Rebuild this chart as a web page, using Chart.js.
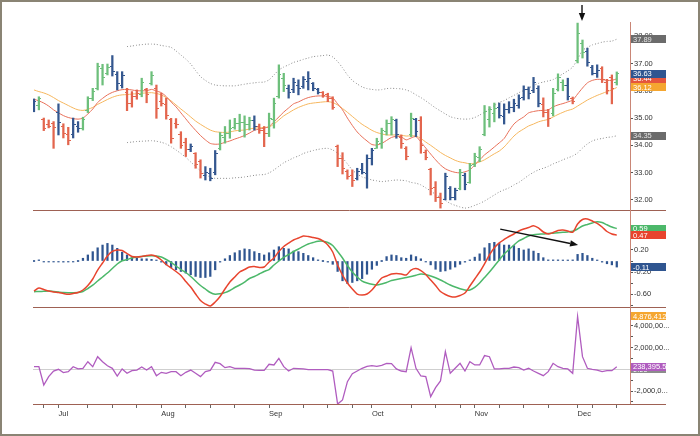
<!DOCTYPE html>
<html>
<head>
<meta charset="utf-8">
<script src="https://cdn.jsdelivr.net/npm/chart.js@4.4.1/dist/chart.umd.min.js"></script>
<style>
  html, body { margin: 0; padding: 0; background: #fff; }
  #frame { position: absolute; left: 0; top: 0; width: 700px; height: 436px; box-sizing: border-box; border: 2px solid #8a8474; }
  .layer { position: absolute; left: 0; top: 0; width: 700px; height: 436px; }
</style>
</head>
<body>
<div id="frame"></div>
<div class="layer"><canvas id="priceChart"></canvas></div>
<div class="layer"><canvas id="macdChart"></canvas></div>
<div class="layer"><canvas id="forceChart"></canvas></div>
<script>
/* ===============================
   Data (trading days, 24 Jun - 13 Dec)
================================ */
const monthNames = ["Jul", "Aug", "Sep", "Oct", "Nov", "Dec"];
const monthStart = [5, 26, 48, 69, 90, 111];
const weekStart = [2, 11, 16, 21, 31, 36, 41, 55, 60, 65, 77, 82, 87, 95, 100, 105, 114, 119];

const priceTicks = [32, 33, 34, 35, 36, 37, 38];
const macdTicks = [0.6, 0.4, 0.2, 0, -0.2, -0.4, -0.6, -0.8];
const forceTicks = [5e6, 4e6, 3e6, 2e6, 1e6, 0, -1e6, -2e6, -3e6];

// impulse colour of each bar: g = up, r = down, b = neutral
const impulse = ("bgrrrbrrbb" + "ggggggbbbr" + "rrgrgrrrrr" + "rrbrrbbbgg" + "gggggbrrgg" +
                 "ggbbbbbbbr" + "rrrrrrbbbb" + "ggggbrrgbr" + "rrrrbbbgbg" + "gggggbbbbb" +
                 "bbbbrrgggb" + "rggbbbrrrg").split("");

const high = [
  35.70, 35.78, 35.00, 34.93, 34.87, 35.52, 34.79, 34.66, 35.00, 34.87,
  35.03, 35.78, 36.09, 37.01, 36.97, 36.98, 37.29, 36.70, 36.70, 36.09,
  35.97, 36.03, 36.46, 36.09, 36.70, 36.21, 35.91, 35.73, 34.99, 34.98,
  34.50, 34.26, 34.05, 33.73, 33.47, 33.22, 33.16, 33.81, 34.47, 34.69,
  34.93, 34.99, 35.14, 35.08, 35.03, 35.08, 34.78, 34.69, 35.18, 35.73,
  36.95, 36.64, 36.21, 36.46, 36.40, 36.52, 36.70, 36.30, 36.09, 35.97,
  35.91, 35.78, 34.01, 33.73, 33.10, 33.10, 33.16, 33.34, 33.65, 33.89,
  34.26, 34.63, 34.93, 35.05, 34.96, 34.38, 33.95, 35.18, 34.99, 35.05,
  33.83, 33.16, 32.67, 32.25, 32.98, 32.49, 32.43, 33.12, 32.98, 33.34,
  33.71, 33.95, 35.46, 35.42, 35.55, 35.55, 35.52, 35.60, 35.69, 35.85,
  36.18, 36.14, 36.49, 36.18, 35.74, 35.32, 36.09, 36.62, 36.40, 36.46,
  35.77, 38.48, 37.86, 37.56, 36.93, 36.95, 36.88, 36.42, 36.58, 36.69
];
const low = [
  35.23, 35.30, 34.54, 34.64, 33.89, 34.38, 34.27, 34.02, 34.27, 34.48,
  34.56, 35.20, 35.64, 36.03, 36.21, 36.58, 36.54, 36.03, 36.10, 35.27,
  35.40, 35.69, 35.78, 35.56, 36.21, 34.99, 35.44, 34.96, 34.08, 34.63,
  33.89, 33.59, 33.77, 33.16, 32.80, 32.73, 32.70, 32.92, 33.83, 34.08,
  34.26, 34.59, 34.50, 34.30, 34.56, 34.56, 34.44, 33.95, 34.32, 34.63,
  35.73, 35.97, 35.73, 35.93, 35.85, 36.09, 36.03, 36.00, 35.88, 35.76,
  35.60, 35.32, 33.22, 32.95, 32.76, 32.49, 32.73, 32.95, 32.43, 33.28,
  33.89, 33.89, 34.38, 34.38, 34.26, 33.89, 33.47, 34.32, 34.32, 33.71,
  33.47, 32.18, 31.94, 31.70, 32.00, 32.00, 32.00, 32.37, 32.37, 32.61,
  33.22, 33.40, 34.35, 34.67, 34.86, 35.00, 34.78, 35.18, 35.23, 35.36,
  35.66, 35.70, 35.93, 35.41, 35.04, 34.69, 35.08, 35.99, 36.00, 35.66,
  35.52, 37.02, 37.20, 36.90, 36.58, 36.49, 36.30, 35.88, 35.52, 36.21
];
const open = [
  35.35, 35.45, 34.95, 34.75, 34.80, 35.20, 34.70, 34.40, 34.40, 34.70,
  34.62, 35.28, 35.70, 36.10, 36.80, 36.65, 36.90, 36.60, 36.20, 35.95,
  35.55, 35.80, 35.85, 36.05, 36.25, 36.10, 35.60, 35.50, 34.95, 34.80,
  34.40, 34.10, 33.85, 33.70, 33.40, 32.90, 32.95, 33.00, 33.90, 34.30,
  34.45, 34.65, 34.80, 34.85, 34.75, 34.90, 34.70, 34.55, 34.45, 34.95,
  35.80, 36.45, 36.10, 36.05, 36.20, 36.15, 36.35, 36.25, 36.05, 35.95,
  35.85, 35.70, 33.95, 33.50, 33.05, 32.90, 32.80, 33.10, 32.95, 33.50,
  33.90, 34.05, 34.50, 34.80, 34.90, 34.30, 33.90, 34.40, 34.95, 34.90,
  33.75, 33.10, 32.45, 32.10, 32.00, 32.40, 32.10, 32.40, 32.90, 32.65,
  33.30, 33.55, 34.40, 34.95, 35.15, 35.40, 35.05, 35.30, 35.40, 35.45,
  35.75, 36.05, 36.00, 36.10, 35.50, 35.20, 35.15, 36.05, 36.30, 36.20,
  35.70, 37.10, 37.75, 37.45, 36.85, 36.65, 36.80, 36.30, 36.50, 36.30
];
const close = [
  35.62, 35.72, 34.62, 34.70, 34.66, 34.85, 34.45, 34.18, 34.78, 34.60,
  34.95, 35.70, 35.98, 36.90, 36.50, 36.85, 36.70, 36.25, 36.55, 35.55,
  35.80, 35.90, 36.30, 35.85, 36.55, 35.35, 35.55, 35.10, 34.25, 34.75,
  34.00, 33.85, 33.95, 33.30, 32.95, 33.00, 32.80, 33.70, 34.35, 34.45,
  34.60, 34.80, 34.85, 34.75, 34.90, 34.70, 34.55, 34.45, 35.00, 35.55,
  36.60, 36.20, 35.95, 36.30, 36.10, 36.40, 36.45, 36.10, 35.95, 35.82,
  35.70, 35.40, 33.50, 33.15, 32.85, 32.70, 33.05, 33.00, 33.50, 33.80,
  34.15, 34.55, 34.80, 34.95, 34.40, 34.05, 33.60, 35.00, 34.50, 34.00,
  33.55, 32.40, 32.10, 31.85, 32.85, 32.10, 32.35, 33.00, 32.55, 33.25,
  33.60, 33.85, 35.25, 35.30, 35.35, 35.10, 35.30, 35.40, 35.55, 35.70,
  36.05, 35.90, 36.30, 35.55, 35.20, 35.00, 35.90, 36.50, 36.20, 35.80,
  35.60, 38.10, 37.40, 37.05, 36.65, 36.75, 36.40, 36.00, 36.10, 36.63
];

const fastEma = [
  35.69, 35.63, 35.55, 35.44, 35.30, 35.19, 35.09, 35.02, 34.98, 34.96,
  35.00, 35.15, 35.33, 35.57, 35.72, 35.85, 35.94, 36.00, 36.04, 36.05,
  36.03, 36.00, 36.00, 36.00, 36.05, 35.99, 35.93, 35.79, 35.59, 35.41,
  35.19, 34.97, 34.75, 34.55, 34.36, 34.20, 34.07, 34.04, 34.05, 34.11,
  34.16, 34.23, 34.29, 34.36, 34.45, 34.55, 34.60, 34.63, 34.69, 34.86,
  35.04, 35.22, 35.37, 35.52, 35.59, 35.68, 35.75, 35.79, 35.81, 35.81,
  35.79, 35.74, 35.52, 35.30, 35.00, 34.73, 34.49, 34.31, 34.16, 34.03,
  34.01, 34.07, 34.18, 34.29, 34.33, 34.31, 34.20, 34.27, 34.32, 34.12,
  33.90, 33.68, 33.47, 33.28, 33.14, 33.06, 33.01, 32.99, 33.03, 33.10,
  33.28, 33.47, 33.65, 33.79, 33.94, 34.09, 34.25, 34.53, 34.78, 34.93,
  35.04, 35.19, 35.24, 35.27, 35.28, 35.30, 35.41, 35.48, 35.53, 35.59,
  35.66, 35.88, 36.10, 36.29, 36.38, 36.42, 36.41, 36.38, 36.38, 36.44
];
const slowEma = [
  36.03, 35.97, 35.92, 35.85, 35.75, 35.64, 35.55, 35.46, 35.37, 35.30,
  35.28, 35.32, 35.39, 35.50, 35.59, 35.68, 35.76, 35.82, 35.85, 35.86,
  35.88, 35.89, 35.91, 35.92, 35.93, 35.90, 35.85, 35.75, 35.63, 35.48,
  35.33, 35.19, 35.04, 34.89, 34.77, 34.66, 34.56, 34.50, 34.48, 34.47,
  34.49, 34.53, 34.55, 34.56, 34.60, 34.63, 34.64, 34.66, 34.67, 34.78,
  34.93, 35.08, 35.19, 35.30, 35.39, 35.46, 35.52, 35.55, 35.57, 35.59,
  35.60, 35.57, 35.48, 35.35, 35.21, 35.06, 34.91, 34.77, 34.66, 34.55,
  34.47, 34.42, 34.38, 34.38, 34.38, 34.37, 34.34, 34.35, 34.34, 34.25,
  34.12, 34.00, 33.87, 33.74, 33.63, 33.54, 33.45, 33.39, 33.36, 33.32,
  33.34, 33.39, 33.47, 33.58, 33.69, 33.79, 33.94, 34.14, 34.34, 34.49,
  34.60, 34.71, 34.78, 34.86, 34.91, 34.95, 35.04, 35.13, 35.21, 35.28,
  35.33, 35.44, 35.55, 35.66, 35.75, 35.83, 35.90, 35.97, 36.03, 36.12
];

// envelope channel starts on bar 19
const envStart = 19;
const envUpper = [
  37.62, 37.64, 37.67, 37.69, 37.71, 37.71, 37.70, 37.66, 37.63, 37.59,
  37.46, 37.31, 37.16, 36.98, 36.74, 36.52, 36.38, 36.27, 36.21, 36.19,
  36.18, 36.18, 36.18, 36.21, 36.24, 36.27, 36.29, 36.31, 36.32, 36.40,
  36.58, 36.76, 36.87, 36.95, 37.04, 37.09, 37.15, 37.20, 37.25, 37.27,
  37.29, 37.31, 37.24, 37.07, 36.84, 36.58, 36.38, 36.25, 36.14, 36.08,
  36.05, 36.03, 36.04, 36.08, 36.09, 36.08, 36.07, 36.03, 35.96, 35.85,
  35.75, 35.63, 35.50, 35.37, 35.26, 35.15, 35.05, 35.00, 34.97, 34.96,
  34.97, 35.02, 35.11, 35.21, 35.33, 35.46, 35.57, 35.64, 35.74, 35.83,
  35.93, 36.01, 36.10, 36.19, 36.27, 36.32, 36.36, 36.41, 36.51, 36.62,
  36.73, 36.87, 37.16, 37.48, 37.59, 37.68, 37.73, 37.78, 37.81, 37.82,
  37.89
];
const envLower = [
  34.10, 34.12, 34.14, 34.15, 34.16, 34.17, 34.15, 34.11, 34.05, 33.95,
  33.83, 33.70, 33.56, 33.39, 33.23, 33.06, 32.93, 32.84, 32.79, 32.79,
  32.79, 32.79, 32.81, 32.82, 32.84, 32.87, 32.90, 32.92, 32.93, 32.99,
  33.10, 33.23, 33.36, 33.45, 33.54, 33.61, 33.70, 33.76, 33.81, 33.85,
  33.88, 33.89, 33.83, 33.71, 33.54, 33.32, 33.10, 32.95, 32.84, 32.79,
  32.73, 32.70, 32.67, 32.69, 32.71, 32.73, 32.72, 32.70, 32.64, 32.61,
  32.55, 32.44, 32.33, 32.20, 32.09, 31.98, 31.87, 31.80, 31.74, 31.70,
  31.73, 31.80, 31.87, 31.96, 32.07, 32.18, 32.29, 32.37, 32.44, 32.55,
  32.64, 32.77, 32.90, 33.01, 33.10, 33.16, 33.23, 33.32, 33.39, 33.47,
  33.54, 33.61, 33.72, 33.90, 34.05, 34.16, 34.22, 34.25, 34.29, 34.31,
  34.35
];

const macdLine = [
  -0.545, -0.491, -0.518, -0.545, -0.564, -0.573, -0.591, -0.605, -0.591, -0.573,
  -0.527, -0.445, -0.327, -0.164, -0.036, 0.091, 0.173, 0.200, 0.191, 0.136,
  0.082, 0.073, 0.082, 0.100, 0.109, 0.082, 0.018, -0.064, -0.127, -0.191,
  -0.264, -0.373, -0.473, -0.600, -0.718, -0.782, -0.818, -0.745, -0.645, -0.509,
  -0.382, -0.291, -0.200, -0.155, -0.109, -0.100, -0.118, -0.109, -0.018, 0.055,
  0.173, 0.264, 0.327, 0.382, 0.418, 0.455, 0.445, 0.427, 0.409, 0.364,
  0.291, 0.164, -0.073, -0.255, -0.400, -0.509, -0.600, -0.618, -0.600, -0.527,
  -0.418, -0.309, -0.273, -0.236, -0.227, -0.236, -0.255, -0.164, -0.136, -0.173,
  -0.245, -0.345, -0.445, -0.555, -0.609, -0.645, -0.655, -0.627, -0.582, -0.455,
  -0.327, -0.200, -0.050, 0.110, 0.240, 0.330, 0.391, 0.445, 0.491, 0.545,
  0.582, 0.609, 0.642, 0.600, 0.527, 0.491, 0.518, 0.555, 0.564, 0.545,
  0.522, 0.673, 0.755, 0.764, 0.727, 0.685, 0.618, 0.536, 0.491, 0.470
];
const signalLine = [
  -0.558, -0.555, -0.551, -0.545, -0.555, -0.564, -0.573, -0.576, -0.575, -0.571,
  -0.555, -0.500, -0.440, -0.364, -0.291, -0.218, -0.136, -0.055, 0.004, 0.027,
  0.055, 0.073, 0.084, 0.091, 0.096, 0.091, 0.073, 0.027, -0.027, -0.091,
  -0.155, -0.209, -0.282, -0.364, -0.445, -0.509, -0.573, -0.605, -0.596, -0.575,
  -0.536, -0.482, -0.436, -0.382, -0.318, -0.282, -0.236, -0.191, -0.155, -0.073,
  0.000, 0.064, 0.118, 0.173, 0.218, 0.267, 0.309, 0.336, 0.358, 0.360,
  0.336, 0.282, 0.173, 0.055, -0.082, -0.200, -0.291, -0.364, -0.400, -0.424,
  -0.436, -0.418, -0.391, -0.355, -0.336, -0.318, -0.300, -0.282, -0.258, -0.236,
  -0.245, -0.273, -0.305, -0.345, -0.391, -0.436, -0.473, -0.505, -0.527, -0.527,
  -0.480, -0.400, -0.300, -0.200, -0.090, 0.020, 0.127, 0.209, 0.291, 0.364,
  0.409, 0.455, 0.478, 0.487, 0.491, 0.500, 0.505, 0.513, 0.522, 0.529,
  0.542, 0.582, 0.636, 0.664, 0.691, 0.715, 0.700, 0.658, 0.618, 0.590
];
const histogram = [
  0.00, 0.02, -0.01, -0.01, -0.01, -0.01, -0.02, -0.01, -0.01, 0.00,
  0.05, 0.11, 0.17, 0.24, 0.29, 0.32, 0.29, 0.23, 0.16, 0.11,
  0.06, 0.05, 0.04, 0.04, 0.03, 0.01, -0.02, -0.07, -0.12, -0.16,
  -0.19, -0.22, -0.25, -0.28, -0.30, -0.30, -0.28, -0.16, -0.02, 0.04,
  0.10, 0.15, 0.19, 0.22, 0.21, 0.17, 0.14, 0.11, 0.15, 0.20,
  0.26, 0.23, 0.22, 0.18, 0.17, 0.14, 0.10, 0.06, 0.02, 0.00,
  -0.02, -0.06, -0.19, -0.36, -0.41, -0.39, -0.36, -0.32, -0.24, -0.15,
  -0.08, 0.00, 0.08, 0.11, 0.10, 0.06, 0.05, 0.11, 0.08, 0.04,
  -0.01, -0.07, -0.15, -0.19, -0.18, -0.15, -0.11, -0.06, -0.02, 0.02,
  0.07, 0.13, 0.24, 0.32, 0.34, 0.32, 0.29, 0.29, 0.28, 0.23,
  0.20, 0.22, 0.18, 0.14, 0.06, 0.02, 0.02, 0.02, 0.01, 0.01,
  0.02, 0.12, 0.14, 0.10, 0.05, 0.01, -0.02, -0.05, -0.07, -0.11
];

const forceIndex = [
  250000, 250000, -1440000, -670000, -150000, 10000, -300000, -210000, 250000, 40000,
  100000, 710000, 250000, 1170000, 710000, 340000, 100000, -610000, 40000, -360000,
  -120000, -60000, 220000, -60000, 250000, -580000, -270000, -360000, -210000, -210000,
  -580000, -270000, -60000, -360000, -670000, -210000, -90000, 650000, 530000, 160000,
  250000, 100000, 100000, 100000, 70000, -60000, -90000, -90000, 470000, 410000,
  1020000, 250000, -150000, 100000, 70000, 40000, -20000, -20000, -20000, -20000,
  -20000, -150000, -3200000, -2820000, -1130000, -390000, -150000, 100000, 280000, 340000,
  280000, 370000, 560000, 530000, 40000, -150000, -210000, 2000000, 100000, -610000,
  -670000, -2510000, -1680000, -1070000, 1630000, -360000, 100000, 560000, -150000, 710000,
  410000, 410000, 1270000, 1170000, 40000, 40000, 100000, 100000, 220000, 160000,
  -60000, 100000, -150000, -360000, -580000, -210000, 560000, 250000, 100000, 40000,
  -360000, 4876412, 1170000, 100000, 10000, -60000, -210000, -120000, -120000, 238395.58
];

/* ===============================
   Styles
================================ */
const FONT = { family: "'Liberation Sans', Arial, sans-serif", size: 7.5 };
const barColor = { g: "#6dbf7b", b: "#34578f", r: "#e3654d" };
const AXIS = "#c98676";
const SEPARATOR = "#9e6153";

Chart.defaults.animation = false;
Chart.defaults.events = [];
Chart.defaults.font.family = FONT.family;
Chart.defaults.plugins.legend.display = false;
Chart.defaults.plugins.tooltip.enabled = false;

const pts = (arr, start = 0) => arr.map((v, i) => ({ x: i + start, y: v }));
const fmt2 = v => v.toFixed(2);
const fmtInt = v => Math.round(v).toLocaleString("en-US");
const fmtDec = v => v.toLocaleString("en-US", { minimumFractionDigits: 2, maximumFractionDigits: 2 });

/* open / close tick images */
function tickImage(color, side) {
  const c = document.createElement("canvas");
  c.width = 5; c.height = 1;
  const g = c.getContext("2d");
  g.fillStyle = color;
  g.fillRect(side === "open" ? 0 : 3, 0, 2, 1);
  return c;
}
const openImg = {}, closeImg = {};
Object.keys(barColor).forEach(k => {
  openImg[k] = tickImage(barColor[k], "open");
  closeImg[k] = tickImage(barColor[k], "close");
});

/* ===============================
   Shared scales
================================ */
function xScale(show) {
  const ticks = monthStart.concat(weekStart).sort((a, b) => a - b);
  return {
    type: "linear",
    min: -0.2,
    max: 121.7,
    offset: false,
    display: show,
    afterBuildTicks: s => { s.ticks = ticks.map(v => ({ value: v })); },
    afterFit: s => { if (show) s.height = 32; },
    grid: { offset: false, drawOnChartArea: false, drawTicks: true, tickLength: 4, color: "#666" },
    border: { display: false },
    ticks: {
      autoSkip: false, maxRotation: 0, align: "start", padding: 1,
      color: "#333", font: FONT,
      callback: v => {
        const k = monthStart.indexOf(v);
        return k >= 0 ? monthNames[k] : "";
      }
    }
  };
}

function yScale(min, max, ticks, fmt, zeroLine) {
  return {
    type: "linear",
    position: "right",
    min, max,
    beginAtZero: false,
    afterBuildTicks: s => { s.ticks = ticks.map(v => ({ value: v })); },
    afterFit: s => { s.width = 70; },
    grid: {
      drawOnChartArea: !!zeroLine,
      color: c => (zeroLine && c.tick && c.tick.value === 0 ? "#cfcfcf" : "rgba(0,0,0,0)"),
      tickColor: "#555",
      tickLength: 3
    },
    border: { display: true, color: AXIS, width: 1 },
    ticks: { autoSkip: false, padding: 1, color: "#333", font: FONT, callback: fmt }
  };
}

/* ===============================
   Value tags, separators, arrows
================================ */
function panelDecor(tags, arrows) {
  return {
    id: "panelDecor",
    afterDraw(chart) {
      const { ctx, chartArea, scales } = chart;
      ctx.save();

      const yb = Math.round(chartArea.bottom) + 0.5;
      ctx.strokeStyle = SEPARATOR;
      ctx.lineWidth = 1;
      ctx.beginPath();
      ctx.moveTo(chartArea.left, yb);
      ctx.lineTo(chartArea.right + 36, yb);
      ctx.stroke();

      tags.forEach(t => {
        const py = scales.y.getPixelForValue(t.value);
        ctx.fillStyle = t.color;
        ctx.fillRect(chartArea.right + 1, Math.round(py - 4), 35, 8);
        ctx.fillStyle = t.textColor || "#ffffff";
        ctx.font = "7.5px " + FONT.family;
        ctx.textBaseline = "middle";
        ctx.textAlign = "left";
        ctx.fillText(t.label, chartArea.right + 3, py + 0.5);
      });

      arrows.forEach(a => {
        const x1 = scales.x.getPixelForValue(a.from[0]), y1 = scales.y.getPixelForValue(a.from[1]);
        const x2 = scales.x.getPixelForValue(a.to[0]), y2 = scales.y.getPixelForValue(a.to[1]);
        const ang = Math.atan2(y2 - y1, x2 - x1), L = 8, W = 3.2;
        const bx = x2 - L * Math.cos(ang), by = y2 - L * Math.sin(ang);
        ctx.strokeStyle = "#111";
        ctx.fillStyle = "#111";
        ctx.lineWidth = 1.4;
        ctx.beginPath();
        ctx.moveTo(x1, y1);
        ctx.lineTo(bx, by);
        ctx.stroke();
        ctx.beginPath();
        ctx.moveTo(x2, y2);
        ctx.lineTo(bx + W * Math.sin(ang), by - W * Math.cos(ang));
        ctx.lineTo(bx - W * Math.sin(ang), by + W * Math.cos(ang));
        ctx.closePath();
        ctx.fill();
      });

      ctx.restore();
    }
  };
}

const lineBase = { type: "line", pointRadius: 0, borderWidth: 1, tension: 0.25, fill: false };

/* ===============================
   Price panel
================================ */
const last = a => a[a.length - 1];

new Chart(document.getElementById("priceChart"), {
  type: "line",
  data: {
    datasets: [
      {
        type: "line", showLine: false, pointRadius: 1,
        data: pts(open),
        pointStyle: c => openImg[impulse[c.dataIndex]]
      },
      {
        type: "line", showLine: false, pointRadius: 1,
        data: pts(close),
        pointStyle: c => closeImg[impulse[c.dataIndex]]
      },
      {
        type: "bar",
        data: high.map((h, i) => ({ x: i, y: [low[i], h] })),
        backgroundColor: c => barColor[impulse[c.dataIndex]],
        barThickness: 1.6,
        borderWidth: 0
      },
      { ...lineBase, data: pts(fastEma), borderColor: "#e86f58" },
      { ...lineBase, data: pts(slowEma), borderColor: "#f6b75e" },
      { ...lineBase, data: pts(envUpper, envStart), borderColor: "#8c8c8c", borderDash: [1, 2] },
      { ...lineBase, data: pts(envLower, envStart), borderColor: "#8c8c8c", borderDash: [1, 2] }
    ]
  },
  options: {
    responsive: true,
    maintainAspectRatio: false,
    layout: { padding: { left: 33, top: 22, right: 0, bottom: 226 } },
    scales: {
      x: xScale(false),
      y: yScale(31.63, 38.52, priceTicks, fmt2, false)
    }
  },
  plugins: [panelDecor(
    [
      { value: last(envUpper), color: "#6b6b6b", textColor: "#e4e4e4", label: fmt2(last(envUpper)) },
      { value: last(fastEma), color: "#e5553d", label: fmt2(last(fastEma)) },
      { value: last(close), color: "#2f5590", label: fmt2(last(close)) },
      { value: last(slowEma), color: "#f5a630", label: fmt2(last(slowEma)) },
      { value: last(envLower), color: "#6b6b6b", textColor: "#e4e4e4", label: fmt2(last(envLower)) }
    ],
    [{ from: [111.9, 39.14], to: [111.9, 38.56] }]
  )]
});

/* ===============================
   MACD panel
================================ */
new Chart(document.getElementById("macdChart"), {
  type: "line",
  data: {
    datasets: [
      { ...lineBase, data: pts(macdLine), borderColor: "#e8442e", borderWidth: 1.5 },
      { ...lineBase, data: pts(signalLine), borderColor: "#4cb86a", borderWidth: 1.5 },
      {
        type: "bar",
        data: pts(histogram),
        backgroundColor: "#2f5590",
        barThickness: 1.6,
        minBarLength: 1,
        borderWidth: 0
      }
    ]
  },
  options: {
    responsive: true,
    maintainAspectRatio: false,
    layout: { padding: { left: 33, top: 210, right: 0, bottom: 129 } },
    scales: {
      x: xScale(false),
      y: yScale(-0.836, 0.927, macdTicks,
        v => (Math.abs(Math.round(v * 10) % 4) === 2 ? v.toFixed(2) : ""), false)
    }
  },
  plugins: [panelDecor(
    [
      { value: last(signalLine), color: "#4cb86a", label: fmt2(last(signalLine)) },
      { value: last(macdLine), color: "#e8442e", label: fmt2(last(macdLine)) },
      { value: last(histogram), color: "#2f5590", label: fmt2(last(histogram)) }
    ],
    [{ from: [95.2, 0.58], to: [111.1, 0.29] }]
  )]
});

/* ===============================
   Force index panel
================================ */
const forceMax = Math.max(...forceIndex);

new Chart(document.getElementById("forceChart"), {
  type: "line",
  data: {
    datasets: [
      { ...lineBase, data: pts(forceIndex), borderColor: "#b05cbf", borderWidth: 1.3, tension: 0 }
    ]
  },
  options: {
    responsive: true,
    maintainAspectRatio: false,
    layout: { padding: { left: 33, top: 307, right: 0, bottom: 0 } },
    scales: {
      x: xScale(true),
      y: yScale(-3.19e6, 5.75e6, forceTicks, v => {
        if (Math.round(v / 1e6) % 2 !== 0) return "";
        const s = fmtDec(v);
        return s.length > 9 ? s.slice(0, 8) + "..." : s;
      }, true)
    }
  },
  plugins: [panelDecor(
    [
      { value: forceMax, color: "#f5a630", label: fmtInt(forceMax) },
      { value: 0, color: "#8c8c8c", label: "0.00" },
      { value: last(forceIndex), color: "#b05cbf", label: fmtDec(last(forceIndex)) }
    ],
    []
  )]
});
</script>
</body>
</html>
